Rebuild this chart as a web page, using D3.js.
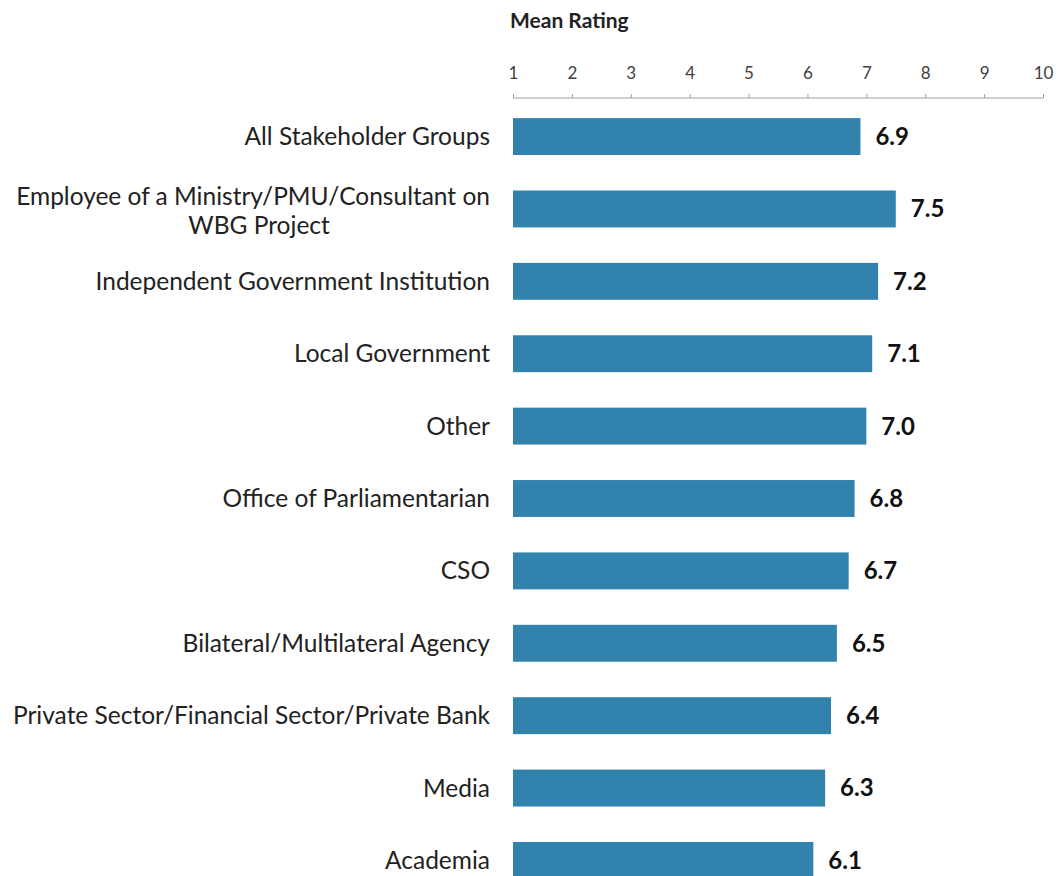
<!DOCTYPE html>
<html>
<head>
  <meta charset="utf-8">
  <title>Mean Rating by Stakeholder Group</title>
  <script src="https://d3js.org/d3.v7.min.js"></script>
  <style>
    body { margin: 0; background: #fff; }
    svg { display: block; }
    text { font-family: Lato, "Open Sans", sans-serif; }
  </style>
</head>
<body>
<svg width="1058" height="876"></svg>
<script>
  // categories, top to bottom
  const groups = [
    'All Stakeholder Groups',
    'Employee of a Ministry/PMU/Consultant on|WBG Project',
    'Independent Government Institution',
    'Local Government',
    'Other',
    'Office of Parliamentarian',
    'CSO',
    'Bilateral/Multilateral Agency',
    'Private Sector/Financial Sector/Private Bank',
    'Media',
    'Academia'
  ];
  const ratings = [6.9, 7.5, 7.2, 7.1, 7.0, 6.8, 6.7, 6.5, 6.4, 6.3, 6.1];
  const ticks = [1, 2, 3, 4, 5, 6, 7, 8, 9, 10];

  const svg = d3.select('svg');

  const x = d3.scaleLinear().domain([1, 10]).range([513, 1043]);
  const y = d3.scaleBand()
    .domain(groups)
    .range([100, 897])
    .paddingInner(0.49)
    .paddingOuter(0.25);

  // title
  svg.append('text')
    .attr('x', 510)
    .attr('y', 28)
    .attr('font-size', 21)
    .attr('font-weight', 'bold')
    .attr('fill', '#222')
    .text('Mean Rating');

  // top axis
  const axis = svg.append('g')
    .attr('transform', 'translate(0,98)')
    .call(d3.axisTop(x).tickValues(ticks).tickSize(5).tickPadding(14));
  axis.select('.domain').attr('stroke', '#a0a0a0').attr('d', 'M513,0H1043');
  axis.selectAll('.tick line').attr('stroke', '#a0a0a0').attr('y2', -4);
  axis.selectAll('.tick text')
    .attr('font-size', 17)
    .attr('fill', '#404040')
    .style('font-family', 'Lato, sans-serif');

  // bars
  svg.append('g')
    .selectAll('rect')
    .data(groups)
    .join('rect')
    .attr('x', x(1))
    .attr('y', d => y(d))
    .attr('width', (d, i) => x(ratings[i]) - x(1))
    .attr('height', y.bandwidth())
    .attr('fill', '#3282ae');

  // value labels
  svg.append('g')
    .selectAll('text')
    .data(groups)
    .join('text')
    .attr('x', (d, i) => x(ratings[i]) + 15)
    .attr('y', d => y(d) + y.bandwidth() / 2)
    .attr('dy', '0.35em')
    .attr('font-size', 24)
    .attr('font-weight', 'bold')
    .attr('fill', '#111')
    .text((d, i) => ratings[i].toFixed(1));

  // category labels
  const labels = svg.append('g')
    .selectAll('text')
    .data(groups)
    .join('text')
    .attr('font-size', 24.5)
    .attr('fill', '#222');

  labels.each(function (d) {
    const lines = d.split('|');
    const t = d3.select(this);
    const cy = y(d) + y.bandwidth() / 2;
    if (lines.length === 1) {
      t.attr('x', 490).attr('y', cy).attr('dy', '0.35em').attr('text-anchor', 'end').text(d);
    } else {
      const first = t.append('tspan')
        .attr('x', 490).attr('y', cy - 13).attr('dy', '0.35em')
        .attr('text-anchor', 'end').text(lines[0]);
      const w = first.node().getComputedTextLength();
      t.append('tspan')
        .attr('x', 490 - w / 2 + 6).attr('y', cy + 16).attr('dy', '0.35em')
        .attr('text-anchor', 'middle').text(lines[1]);
    }
  });
</script>
</body>
</html>
